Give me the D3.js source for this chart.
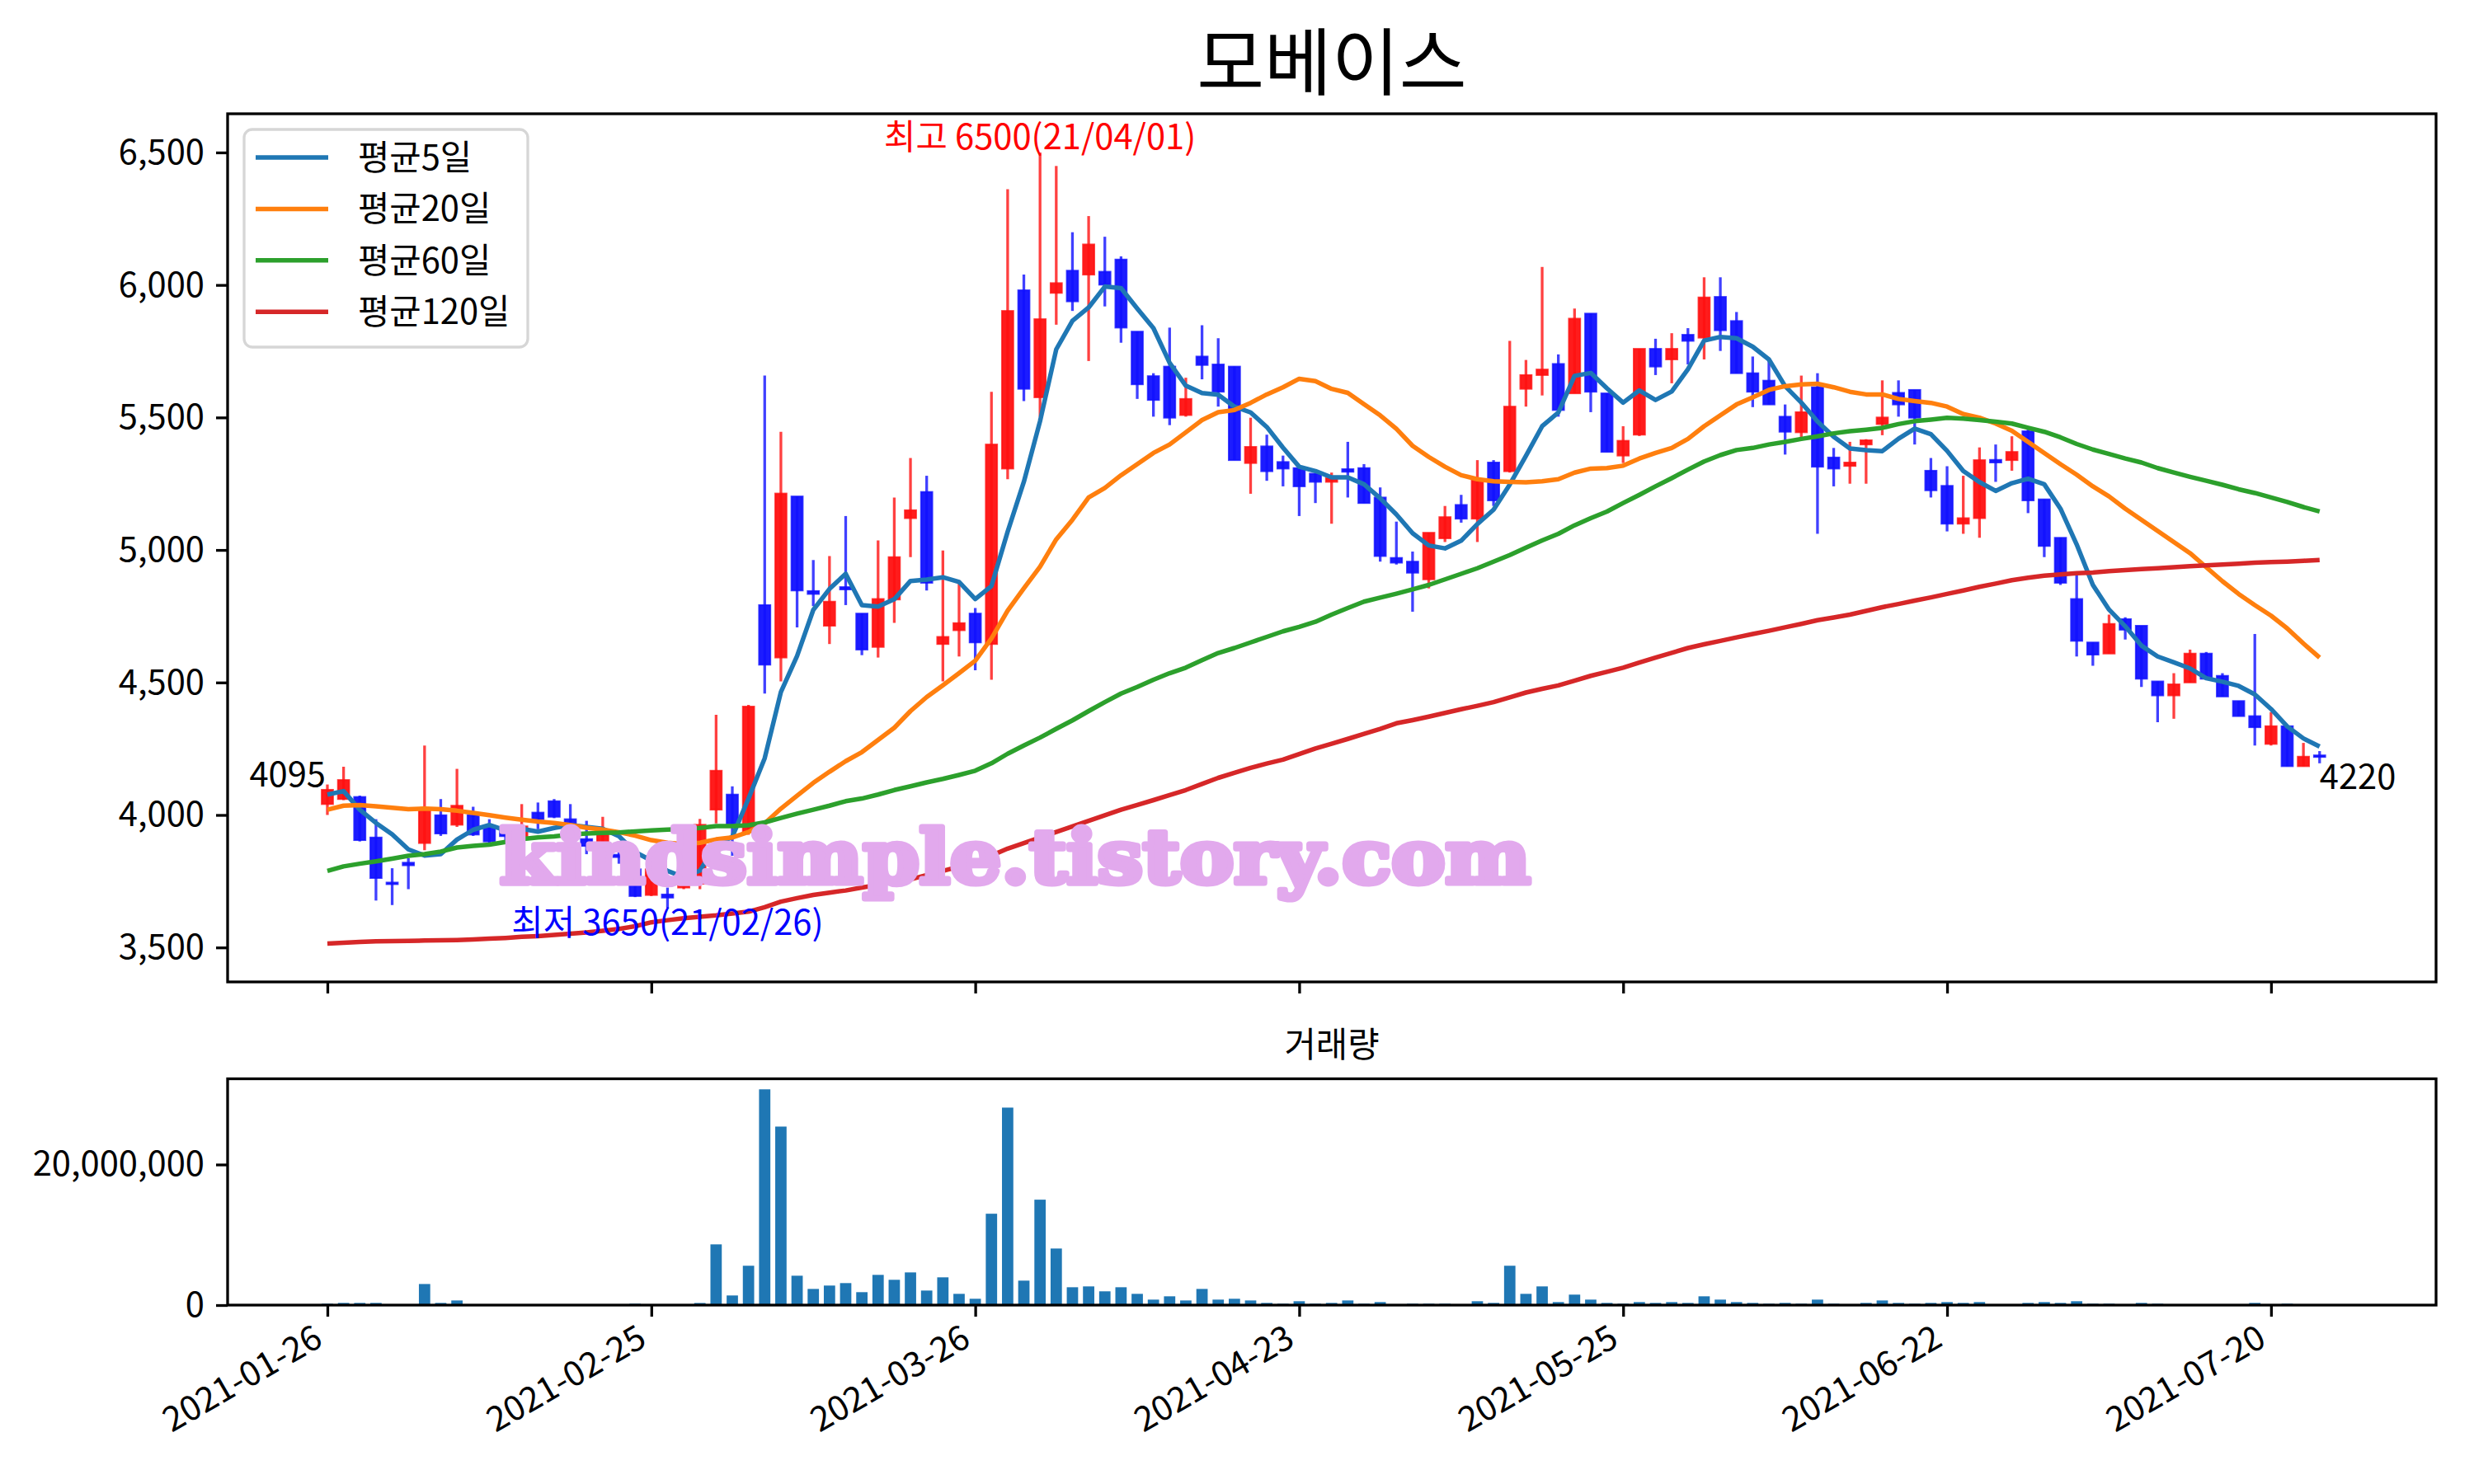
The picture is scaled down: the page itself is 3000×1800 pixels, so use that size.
<!DOCTYPE html>
<html>
<head>
<meta charset="utf-8">
<script src="https://cdn.jsdelivr.net/npm/d3@7"></script>
<style>
  body { margin: 0; background: #fff; }
  text { font-family: "Noto Sans CJK KR", "Noto Sans", sans-serif; }
</style>
</head>
<body>
<div id="chart"></div>
<script>
// ---- data (index 0 = 2021-01-26, one entry per trading day) ----
var title = "모베이스";
var tickStep = 20;
var tickLabels = ["2021-01-26", "2021-02-25", "2021-03-26", "2021-04-23", "2021-05-25", "2021-06-22", "2021-07-20"];

var opens = [4041,4060,4068,3915,3745,3820,3894,3999,3963,3999,
  3951,3945,3909,4009,4052,3984,3909,3894,3850,3795,
  3698,3700,3726,3740,4020,4077,3936,4792,4594,5202,
  4845,4714,4860,4760,4634,4813,5120,5219,4645,4697,
  4760,4645,5307,5980,5576,5970,6054,6039,6050,6096,
  5824,5656,5692,5509,5730,5700,5692,5328,5391,5332,
  5309,5288,5257,5305,5309,5198,4970,4956,4889,5044,
  5170,5118,5330,5297,5608,5660,5702,5591,5892,5591,
  5356,5435,5759,5719,5812,5801,5955,5864,5667,5639,
  5503,5444,5614,5349,5317,5398,5475,5593,5604,5299,
  5242,5099,5120,5340,5339,5448,5191,5046,4815,4651,
  4609,4739,4714,4504,4451,4500,4609,4525,4430,4373,
  4268,4335,4184,4225];
var highs = [4115,4182,4073,3984,3799,3837,4262,4060,4174,4031,
  3984,3955,4041,4047,4060,4041,3978,3993,3867,3810,
  3810,3726,3820,3985,4378,4108,4415,5658,5446,5202,
  4962,4977,5128,4760,5036,5198,5347,5280,4998,4876,
  4781,5597,6361,6039,6500,6449,6199,6260,6182,6108,
  5824,5667,5839,5650,5848,5799,5692,5499,5435,5356,
  5309,5288,5292,5408,5324,5236,5107,4994,5065,5166,
  5208,5339,5339,5789,5717,6068,5738,5911,5892,5591,
  5467,5759,5797,5818,5837,6029,6029,5898,5730,5713,
  5549,5658,5667,5385,5408,5418,5640,5640,5604,5347,
  5316,5280,5387,5398,5429,5461,5191,5046,4908,4651,
  4756,4746,4714,4504,4535,4624,4615,4535,4430,4683,
  4388,4335,4272,4241];
var lows = [4000,4056,3900,3677,3660,3720,3867,3921,3955,3921,
  3894,3905,3905,3946,3988,3925,3852,3888,3816,3690,
  3694,3650,3720,3720,3968,3846,3925,4458,4504,4708,
  4788,4645,4792,4603,4594,4725,4973,4847,4504,4598,
  4546,4510,5267,5562,5503,5850,5902,5713,5919,5782,
  5570,5503,5471,5503,5644,5541,5339,5212,5261,5240,
  5128,5177,5099,5198,5177,4956,4945,4767,4855,5030,
  5103,5030,5166,5292,5541,5583,5503,5591,5520,5370,
  5328,5430,5660,5629,5700,5719,5751,5667,5539,5549,
  5360,5423,5061,5240,5250,5250,5433,5503,5398,5198,
  5070,5061,5046,5257,5299,5139,4973,4868,4598,4563,
  4609,4662,4483,4350,4363,4500,4514,4447,4373,4262,
  4262,4184,4184,4195];
var closes = [4095,4132,3905,3762,3740,3810,4020,3930,4035,3926,
  3900,3920,3957,3984,3993,3957,3883,3925,3841,3694,
  3795,3688,3810,3963,4167,3963,4409,4567,5213,4847,
  4834,4805,4851,4624,4815,4973,5150,4876,4672,4724,
  4651,5398,5902,5608,5871,6007,5938,6153,6001,5839,
  5625,5566,5499,5570,5698,5597,5339,5389,5297,5307,
  5240,5257,5271,5295,5177,4977,4952,4914,5065,5124,
  5118,5267,5187,5541,5660,5681,5528,5873,5597,5370,
  5412,5759,5692,5759,5789,5953,5829,5667,5597,5549,
  5446,5520,5314,5307,5330,5414,5500,5549,5499,5225,
  5099,5120,5339,5330,5370,5187,5015,4876,4657,4605,
  4721,4699,4514,4451,4493,4609,4514,4447,4373,4331,
  4335,4184,4220,4220];
var volumes = [200000,310000,310000,310000,50000,50000,3000000,310000,660000,50000,
  50000,50000,50000,50000,50000,50000,50000,50000,50000,200000,
  50000,50000,50000,300000,8640000,1370000,5600000,30700000,25400000,4180000,
  2300000,2780000,3130000,1840000,4300000,3600000,4650000,2070000,3950000,1600000,
  900000,13000000,28100000,3480000,15000000,8050000,2540000,2660000,1960000,2540000,
  1600000,780000,1250000,660000,2300000,780000,900000,660000,310000,200000,
  550000,200000,310000,660000,200000,430000,50000,200000,200000,200000,
  50000,550000,310000,5600000,1600000,2660000,430000,1490000,780000,310000,
  200000,430000,310000,430000,310000,1250000,780000,430000,310000,200000,
  310000,200000,780000,200000,50000,310000,660000,310000,200000,310000,
  430000,310000,430000,50000,50000,310000,430000,310000,550000,200000,
  200000,50000,310000,200000,50000,50000,50000,50000,50000,310000,
  50000,200000,50000,50000];

var ma5 = [4077,4090,4020,3970,3927,3870,3847,3852,3907,3944,
  3962,3942,3948,3937,3951,3962,3955,3948,3920,3860,
  3828,3789,3766,3790,3885,3918,4062,4214,4464,4600,
  4774,4853,4910,4792,4786,4814,4883,4888,4897,4879,
  4815,4864,5069,5257,5486,5757,5865,5915,5994,5988,
  5911,5837,5706,5620,5592,5586,5541,5519,5464,5386,
  5314,5298,5274,5274,5248,5195,5134,5063,5017,5006,
  5035,5098,5152,5247,5355,5467,5519,5657,5668,5610,
  5556,5602,5566,5598,5682,5790,5804,5799,5767,5719,
  5618,5556,5485,5427,5383,5377,5373,5420,5458,5437,
  5374,5298,5256,5223,5252,5269,5248,5156,5021,4868,
  4775,4712,4639,4598,4576,4553,4516,4503,4487,4455,
  4400,4334,4289,4258];
var ma20 = [4020,4035,4037,4033,4027,4022,4024,4022,4016,4008,
  3999,3990,3982,3975,3970,3962,3952,3945,3935,3922,
  3905,3895,3890,3895,3908,3915,3936,3968,4024,4073,
  4121,4163,4203,4237,4283,4329,4392,4445,4489,4535,
  4582,4666,4771,4855,4937,5040,5114,5198,5234,5282,
  5324,5366,5398,5444,5490,5520,5528,5555,5587,5614,
  5646,5637,5608,5593,5550,5508,5457,5393,5351,5314,
  5282,5267,5259,5257,5255,5259,5267,5292,5307,5309,
  5318,5345,5366,5385,5419,5467,5508,5549,5576,5604,
  5618,5625,5627,5614,5597,5587,5587,5570,5562,5555,
  5541,5513,5499,5477,5450,5408,5366,5324,5284,5240,
  5202,5156,5114,5072,5030,4988,4935,4882,4834,4792,
  4752,4704,4647,4594];
var ma60 = [3789,3806,3816,3825,3835,3846,3852,3862,3877,3883,
  3888,3898,3909,3915,3919,3926,3930,3932,3934,3938,
  3942,3945,3947,3951,3958,3958,3961,3972,3989,4005,
  4020,4035,4052,4062,4077,4094,4108,4123,4136,4151,
  4167,4195,4231,4262,4292,4325,4357,4392,4426,4458,
  4483,4510,4535,4556,4584,4611,4630,4651,4672,4693,
  4710,4729,4756,4781,4805,4820,4835,4851,4868,4889,
  4910,4931,4956,4981,5009,5036,5061,5093,5120,5145,
  5177,5208,5240,5271,5303,5334,5358,5377,5385,5398,
  5408,5419,5429,5440,5448,5454,5461,5475,5486,5492,
  5499,5496,5490,5484,5477,5461,5446,5425,5400,5379,
  5362,5345,5330,5309,5292,5276,5261,5246,5229,5215,
  5198,5181,5162,5145];
var ma120 = [3515,3518,3521,3523,3524,3525,3526,3527,3528,3530,
  3533,3536,3540,3543,3547,3552,3557,3563,3570,3580,
  3595,3603,3610,3616,3621,3628,3635,3652,3673,3686,
  3698,3707,3715,3726,3736,3747,3757,3773,3789,3805,
  3820,3847,3873,3894,3915,3936,3957,3978,3999,4020,
  4038,4056,4075,4094,4117,4140,4159,4178,4194,4209,
  4230,4251,4269,4287,4306,4325,4346,4358,4371,4385,
  4399,4412,4426,4444,4462,4476,4489,4507,4525,4540,
  4556,4575,4594,4612,4630,4644,4657,4670,4683,4695,
  4708,4721,4735,4745,4756,4770,4784,4796,4809,4821,
  4834,4847,4861,4873,4886,4895,4903,4908,4912,4915,
  4920,4924,4928,4931,4935,4939,4942,4945,4948,4952,
  4954,4956,4959,4962];

var maNames = ["평균5일", "평균20일", "평균60일", "평균120일"];
var maColors = ["#1f77b4", "#ff7f0e", "#2ca02c", "#d62728"];
var priceTicks = [3500, 4000, 4500, 5000, 5500, 6000, 6500];
var volTicks = [0, 20000000];

// ---- layout ----
var svgWidth = 3000;
var svgHeight = 1800;
var plotLeft = 276, plotRight = 2954;
var priceTop = 138, priceBottom = 1191;
var volTop = 1308.5, volBottom = 1583;
var fontSize = 41.7;

var svg = d3.select("#chart")
  .append("svg")
  .attr("width", svgWidth)
  .attr("height", svgHeight);

svg.append("rect")
  .attr("width", svgWidth)
  .attr("height", svgHeight)
  .attr("fill", "#fff");

var xScale = d3.scaleLinear().domain([-6.16, 130.19]).range([plotLeft, plotRight]);
var yPrice = d3.scaleLinear().domain([3370, 6646]).range([priceBottom, priceTop]);
var yVol = d3.scaleLinear().domain([0, 32200000]).range([volBottom, volTop]);

var idx = d3.range(closes.length);
var tickIdx = tickLabels.map((d, i) => i * tickStep);

// clip paths for the two panels
var defs = svg.append("defs");
defs.append("clipPath").attr("id", "clipPrice").append("rect")
  .attr("x", plotLeft).attr("y", priceTop)
  .attr("width", plotRight - plotLeft).attr("height", priceBottom - priceTop);
defs.append("clipPath").attr("id", "clipVol").append("rect")
  .attr("x", plotLeft).attr("y", volTop)
  .attr("width", plotRight - plotLeft).attr("height", volBottom - volTop);

// ---- price panel ----
var priceGroup = svg.append("g").attr("clip-path", "url(#clipPrice)");

var bodyW = 0.7 * (xScale(1) - xScale(0));
var upColor = "#ff1010", downColor = "#1010ff";
var colorOf = i => closes[i] >= opens[i] ? upColor : downColor;

// wicks
priceGroup.selectAll("line.wick")
  .data(idx)
  .enter()
  .append("line")
  .attr("class", "wick")
  .attr("x1", i => xScale(i))
  .attr("x2", i => xScale(i))
  .attr("y1", i => yPrice(highs[i]))
  .attr("y2", i => yPrice(lows[i]))
  .attr("stroke", colorOf)
  .attr("stroke-opacity", 0.8)
  .attr("stroke-width", 3.3);

// bodies
priceGroup.selectAll("rect.body")
  .data(idx)
  .enter()
  .append("rect")
  .attr("class", "body")
  .attr("x", i => xScale(i) - bodyW / 2)
  .attr("width", bodyW)
  .attr("y", i => yPrice(Math.max(opens[i], closes[i])))
  .attr("height", i => Math.max(2, Math.abs(yPrice(opens[i]) - yPrice(closes[i]))))
  .attr("fill", colorOf)
  .attr("fill-opacity", 0.95)
  .attr("stroke", colorOf)
  .attr("stroke-opacity", 0.8)
  .attr("stroke-width", 2);

// moving averages
var maSeries = [ma5, ma20, ma60, ma120];
var maLine = d3.line()
  .x((d, i) => xScale(i))
  .y(d => yPrice(d));

maSeries.forEach(function(series, k) {
  priceGroup.append("path")
    .datum(series)
    .attr("d", maLine)
    .attr("fill", "none")
    .attr("stroke", maColors[k])
    .attr("stroke-width", 5.5)
    .attr("stroke-linejoin", "round");
});

// ---- volume panel ----
var volGroup = svg.append("g").attr("clip-path", "url(#clipVol)");
var barW = 0.7 * (xScale(1) - xScale(0));
volGroup.selectAll("rect.vol")
  .data(idx)
  .enter()
  .append("rect")
  .attr("class", "vol")
  .attr("x", i => xScale(i) - barW / 2)
  .attr("width", barW)
  .attr("y", i => yVol(volumes[i]))
  .attr("height", i => volBottom - yVol(volumes[i]))
  .attr("fill", "#1f77b4");

// ---- axes ----
function styleAxis(g) {
  g.select(".domain").remove();
  g.selectAll(".tick line").attr("stroke", "#000").attr("stroke-width", 3.3);
  g.selectAll(".tick text")
    .attr("fill", "#000")
    .style("font-size", fontSize + "px")
    .style("font-family", "'Noto Sans CJK KR', sans-serif");
}

svg.append("g")
  .attr("transform", `translate(${plotLeft},0)`)
  .call(d3.axisLeft(yPrice).tickValues(priceTicks).tickFormat(d3.format(","))
    .tickSize(14).tickPadding(14).tickSizeOuter(0))
  .call(styleAxis);

svg.append("g")
  .attr("transform", `translate(${plotLeft},0)`)
  .call(d3.axisLeft(yVol).tickValues(volTicks).tickFormat(d3.format(","))
    .tickSize(14).tickPadding(14).tickSizeOuter(0))
  .call(styleAxis);

svg.append("g")
  .attr("transform", `translate(0,${priceBottom})`)
  .call(d3.axisBottom(xScale).tickValues(tickIdx).tickFormat("").tickSize(14).tickSizeOuter(0))
  .call(styleAxis);

var xAxisVol = svg.append("g")
  .attr("transform", `translate(0,${volBottom})`)
  .call(d3.axisBottom(xScale).tickValues(tickIdx).tickFormat((d, i) => tickLabels[i])
    .tickSize(14).tickSizeOuter(0))
  .call(styleAxis);

xAxisVol.selectAll(".tick text")
  .attr("y", 0)
  .attr("dy", 0)
  .attr("text-anchor", "end")
  .attr("transform", "translate(-4,48) rotate(-30)");

// spines
[[priceTop, priceBottom], [volTop, volBottom]].forEach(function(p) {
  svg.append("rect")
    .attr("x", plotLeft)
    .attr("y", p[0])
    .attr("width", plotRight - plotLeft)
    .attr("height", p[1] - p[0])
    .attr("fill", "none")
    .attr("stroke", "#000")
    .attr("stroke-width", 3.3);
});

// ---- titles ----
svg.append("text")
  .attr("x", (plotLeft + plotRight) / 2)
  .attr("y", 108)
  .attr("text-anchor", "middle")
  .style("font-size", "89px")
  .text(title);

svg.append("text")
  .attr("x", (plotLeft + plotRight) / 2)
  .attr("y", 1282)
  .attr("text-anchor", "middle")
  .style("font-size", fontSize + "px")
  .text("거래량");

// ---- annotations ----
var hiIdx = d3.maxIndex(highs);
var loIdx = d3.minIndex(lows);
var fmtDate = ["21/04/01", "21/02/26"];

svg.append("text")
  .attr("x", xScale(hiIdx))
  .attr("y", yPrice(highs[hiIdx]) - 4)
  .attr("text-anchor", "middle")
  .attr("fill", "red")
  .style("font-size", fontSize + "px")
  .text(`최고 ${highs[hiIdx]}(${fmtDate[0]})`);

svg.append("text")
  .attr("x", xScale(loIdx))
  .attr("y", yPrice(lows[loIdx]) + 33)
  .attr("text-anchor", "middle")
  .attr("fill", "blue")
  .style("font-size", fontSize + "px")
  .text(`최저 ${lows[loIdx]}(${fmtDate[1]})`);

svg.append("text")
  .attr("x", xScale(0) - 2)
  .attr("y", yPrice(closes[0]) - 4)
  .attr("text-anchor", "end")
  .style("font-size", fontSize + "px")
  .text(closes[0]);

var last = closes.length - 1;
svg.append("text")
  .attr("x", xScale(last))
  .attr("y", yPrice(closes[last]) + 39)
  .attr("text-anchor", "start")
  .style("font-size", fontSize + "px")
  .text(closes[last]);

// ---- watermark ----
svg.append("text")
  .attr("x", 606)
  .attr("y", 1071)
  .attr("textLength", 1250)
  .attr("lengthAdjust", "spacingAndGlyphs")
  .attr("fill", "#e2a9ed")
  .attr("stroke", "#e2a9ed")
  .attr("stroke-width", 7)
  .attr("stroke-linejoin", "round")
  .style("font-family", "'DejaVu Serif', serif")
  .style("font-weight", "bold")
  .style("font-size", "90px")
  .text("kindsimple.tistory.com");

// ---- legend ----
var legend = svg.append("g");
legend.append("rect")
  .attr("x", 296)
  .attr("y", 157)
  .attr("width", 344)
  .attr("height", 264)
  .attr("rx", 10)
  .attr("fill", "#fff")
  .attr("fill-opacity", 0.8)
  .attr("stroke", "#d6d6d6")
  .attr("stroke-width", 3.3);

maNames.forEach(function(name, k) {
  var ly = 191 + k * 62.4;
  legend.append("line")
    .attr("x1", 310).attr("x2", 398)
    .attr("y1", ly).attr("y2", ly)
    .attr("stroke", maColors[k])
    .attr("stroke-width", 5.5);
  legend.append("text")
    .attr("x", 434)
    .attr("y", ly)
    .attr("dy", "0.36em")
    .style("font-size", fontSize + "px")
    .text(name);
});
</script>
</body>
</html>
